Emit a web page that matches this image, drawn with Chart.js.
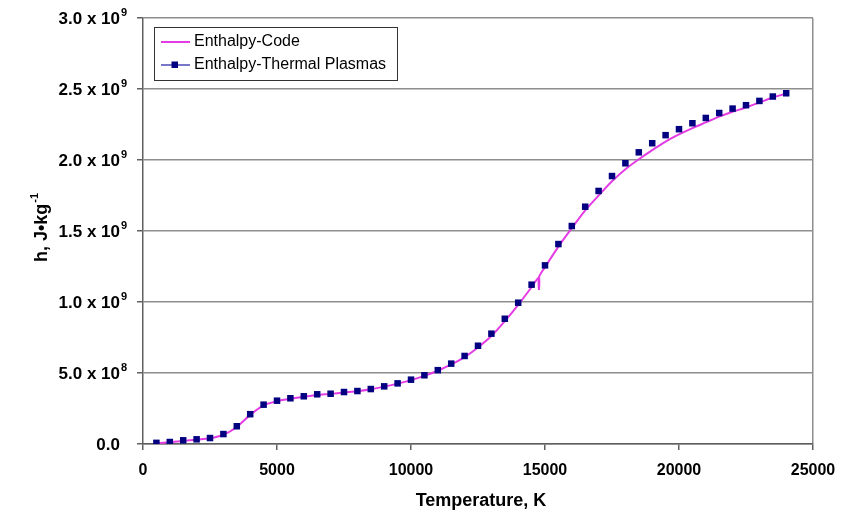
<!DOCTYPE html>
<html>
<head>
<meta charset="utf-8">
<script src="https://cdn.jsdelivr.net/npm/chart.js@4/dist/chart.umd.min.js"></script>
<style>
  html, body { margin: 0; padding: 0; background: #fff; }
  #wrap { width: 842px; height: 522px; }
</style>
</head>
<body>
<div id="wrap"><canvas id="c" width="842" height="522"></canvas></div>
<script>
// Tabulated enthalpy of the plasma (J/kg) versus temperature (K)
const temperatureK = [
  500, 1000, 1500, 2000, 2500, 3000, 3500, 4000, 4500, 5000,
  5500, 6000, 6500, 7000, 7500, 8000, 8500, 9000, 9500, 10000,
  10500, 11000, 11500, 12000, 12500, 13000, 13500, 14000, 14500, 15000,
  15500, 16000, 16500, 17000, 17500, 18000, 18500, 19000, 19500, 20000,
  20500, 21000, 21500, 22000, 22500, 23000, 23500, 24000
];
const enthalpyThermalPlasmas = [
  0.008e9, 0.014e9, 0.026e9, 0.033e9, 0.042e9, 0.070e9, 0.125e9, 0.210e9, 0.277e9, 0.305e9,
  0.322e9, 0.336e9, 0.350e9, 0.354e9, 0.366e9, 0.373e9, 0.387e9, 0.406e9, 0.427e9, 0.453e9,
  0.484e9, 0.520e9, 0.566e9, 0.620e9, 0.692e9, 0.777e9, 0.882e9, 0.995e9, 1.122e9, 1.258e9,
  1.408e9, 1.535e9, 1.671e9, 1.782e9, 1.887e9, 1.977e9, 2.054e9, 2.118e9, 2.175e9, 2.217e9,
  2.259e9, 2.296e9, 2.331e9, 2.362e9, 2.386e9, 2.416e9, 2.447e9, 2.470e9
];

// Enthalpy computed by the code (continuous curve)
const codeTemperatureK = [
  500, 1000, 1500, 2000, 2500, 3000, 3500, 4000, 4500, 5000,
  5500, 6000, 6500, 7000, 7500, 8000, 8500, 9000, 9500, 10000,
  10500, 11000, 11500, 12000, 12500, 13000, 13500, 14000, 14500, 14775,
  14775, 14775, 15000, 15500, 16000, 16500, 17000, 17500, 18000, 18500,
  19000, 19500, 20000, 20500, 21000, 21500, 22000, 22500, 23000, 23500, 24000
];
const enthalpyCode = [
  0.005e9, 0.012e9, 0.022e9, 0.030e9, 0.040e9, 0.065e9, 0.120e9, 0.205e9, 0.272e9, 0.302e9,
  0.318e9, 0.332e9, 0.345e9, 0.353e9, 0.363e9, 0.372e9, 0.386e9, 0.404e9, 0.425e9, 0.450e9,
  0.480e9, 0.516e9, 0.560e9, 0.612e9, 0.680e9, 0.760e9, 0.865e9, 0.980e9, 1.105e9, 1.175e9,
  1.085e9, 1.175e9, 1.245e9, 1.390e9, 1.520e9, 1.645e9, 1.750e9, 1.850e9, 1.935e9, 2.005e9,
  2.070e9, 2.130e9, 2.180e9, 2.225e9, 2.265e9, 2.305e9, 2.340e9, 2.370e9, 2.405e9, 2.440e9, 2.468e9
];

// Axis ticks and labels
const xTickValues = [0, 5000, 10000, 15000, 20000, 25000];
const yTickValues = [0, 0.5e9, 1.0e9, 1.5e9, 2.0e9, 2.5e9, 3.0e9];
const yTickMantissa = ['0.0', '5.0', '1.0', '1.5', '2.0', '2.5', '3.0'];
const yTickExponent = ['', '8', '9', '9', '9', '9', '9'];

const seriesNames = ['Enthalpy-Code', 'Enthalpy-Thermal Plasmas'];
const xTitle = 'Temperature, K';
const yTitleBase = 'h, J\u2022kg';
const yTitleSup = '-1';

const FONT = '"Liberation Sans", Arial, sans-serif';
const MAGENTA = '#e43ce4';
const NAVY = '#000080';
const AXIS = '#606060';
const GRID = '#8e8e8e';

function pairs(xs, ys) { return xs.map((x, i) => ({ x: x, y: ys[i] })); }

// Text, superscripts and the legend box drawn on top of the plot
const annotations = {
  id: 'annotations',
  afterDraw(chart) {
    const ctx = chart.ctx;
    const ys = chart.scales.y;
    ctx.save();
    ctx.fillStyle = '#000';

    // y tick labels with power-of-ten exponents
    yTickValues.forEach((v, i) => {
      const py = ys.getPixelForValue(v);
      const right = 120;
      ctx.font = 'bold 17px ' + FONT;
      ctx.textBaseline = 'middle';
      if (yTickExponent[i]) {
        const base = yTickMantissa[i] + ' x 10';
        ctx.textAlign = 'right';
        ctx.fillText(base, right, py + 1);
        ctx.font = 'bold 11px ' + FONT;
        ctx.textAlign = 'left';
        ctx.textBaseline = 'alphabetic';
        ctx.fillText(yTickExponent[i], right + 1, py - 2);
      } else {
        ctx.textAlign = 'right';
        ctx.fillText(yTickMantissa[i], right, py + 1);
      }
    });

    // x axis title
    ctx.font = 'bold 18px ' + FONT;
    ctx.textAlign = 'center';
    ctx.textBaseline = 'middle';
    ctx.fillText(xTitle, 481, 501);

    // y axis title (rotated), with superscript
    ctx.save();
    ctx.translate(40, 228);
    ctx.rotate(-Math.PI / 2);
    ctx.font = 'bold 18px ' + FONT;
    const wBase = ctx.measureText(yTitleBase).width;
    ctx.font = 'bold 11px ' + FONT;
    const wSup = ctx.measureText(yTitleSup).width;
    const start = -(wBase + wSup) / 2;
    ctx.font = 'bold 18px ' + FONT;
    ctx.textAlign = 'left';
    ctx.textBaseline = 'alphabetic';
    ctx.fillText(yTitleBase, start, 7);
    ctx.font = 'bold 11px ' + FONT;
    ctx.fillText(yTitleSup, start + wBase + 1, -2);
    ctx.restore();

    // legend
    const lx = 154, ly = 27, lw = 243, lh = 53;
    ctx.fillStyle = '#fff';
    ctx.fillRect(lx, ly, lw, lh);
    ctx.strokeStyle = '#333';
    ctx.lineWidth = 1;
    ctx.strokeRect(lx + 0.5, ly + 0.5, lw, lh);

    ctx.lineWidth = 2;
    ctx.strokeStyle = MAGENTA;
    ctx.beginPath(); ctx.moveTo(161, 42); ctx.lineTo(190, 42); ctx.stroke();

    ctx.lineWidth = 1.5;
    ctx.strokeStyle = '#4a4ab8';
    ctx.beginPath(); ctx.moveTo(161, 65); ctx.lineTo(190, 65); ctx.stroke();
    ctx.fillStyle = NAVY;
    ctx.fillRect(171.5, 61.5, 6.5, 6.5);

    ctx.fillStyle = '#000';
    ctx.font = '16px ' + FONT;
    ctx.textAlign = 'left';
    ctx.textBaseline = 'middle';
    ctx.fillText(seriesNames[0], 194, 42);
    ctx.fillText(seriesNames[1], 194, 65);
    ctx.restore();
  }
};

new Chart(document.getElementById('c'), {
  type: 'scatter',
  data: {
    datasets: [
      {
        label: seriesNames[1],
        data: pairs(temperatureK, enthalpyThermalPlasmas),
        showLine: false,
        pointStyle: 'rect',
        pointRadius: 4.6,
        pointBorderWidth: 0,
        backgroundColor: NAVY,
        borderColor: NAVY,
        order: 0
      },
      {
        label: seriesNames[0],
        data: pairs(codeTemperatureK, enthalpyCode),
        showLine: true,
        borderColor: MAGENTA,
        borderWidth: 2,
        pointRadius: 0,
        tension: 0.25,
        order: 1
      }
    ]
  },
  options: {
    responsive: false,
    animation: false,
    layout: { padding: { top: 18, right: 29, left: 0, bottom: 0 } },
    plugins: { legend: { display: false }, tooltip: { enabled: false } },
    scales: {
      x: {
        type: 'linear',
        min: 0,
        max: 25000,
        afterBuildTicks(scale) { scale.ticks = xTickValues.map(v => ({ value: v })); },
        afterFit(scale) {
          scale.height = 78;
          scale.paddingLeft = 0;
          scale.paddingRight = 0;
        },
        ticks: {
          color: '#000',
          font: { family: FONT, size: 16, weight: 'bold' },
          padding: 11,
          maxRotation: 0,
          autoSkip: false,
          callback: v => String(v)
        },
        grid: {
          color: ctx => (ctx.tick && ctx.tick.value === 25000 ? GRID : 'rgba(0,0,0,0)'),
          lineWidth: 1.5,
          drawTicks: true,
          tickLength: 6,
          tickColor: AXIS,
          tickWidth: 1.5
        },
        border: { color: AXIS, width: 1.5 }
      },
      y: {
        type: 'linear',
        min: 0,
        max: 3e9,
        afterBuildTicks(scale) { scale.ticks = yTickValues.map(v => ({ value: v })); },
        afterFit(scale) {
          scale.width = 143;
          scale.paddingTop = 0;
          scale.paddingBottom = 0;
        },
        ticks: { display: false },
        grid: {
          color: GRID,
          lineWidth: 1.5,
          drawTicks: true,
          tickLength: 6,
          tickColor: AXIS,
          tickWidth: 1.5
        },
        border: { color: AXIS, width: 1.5 }
      }
    }
  },
  plugins: [annotations]
});
</script>
</body>
</html>
